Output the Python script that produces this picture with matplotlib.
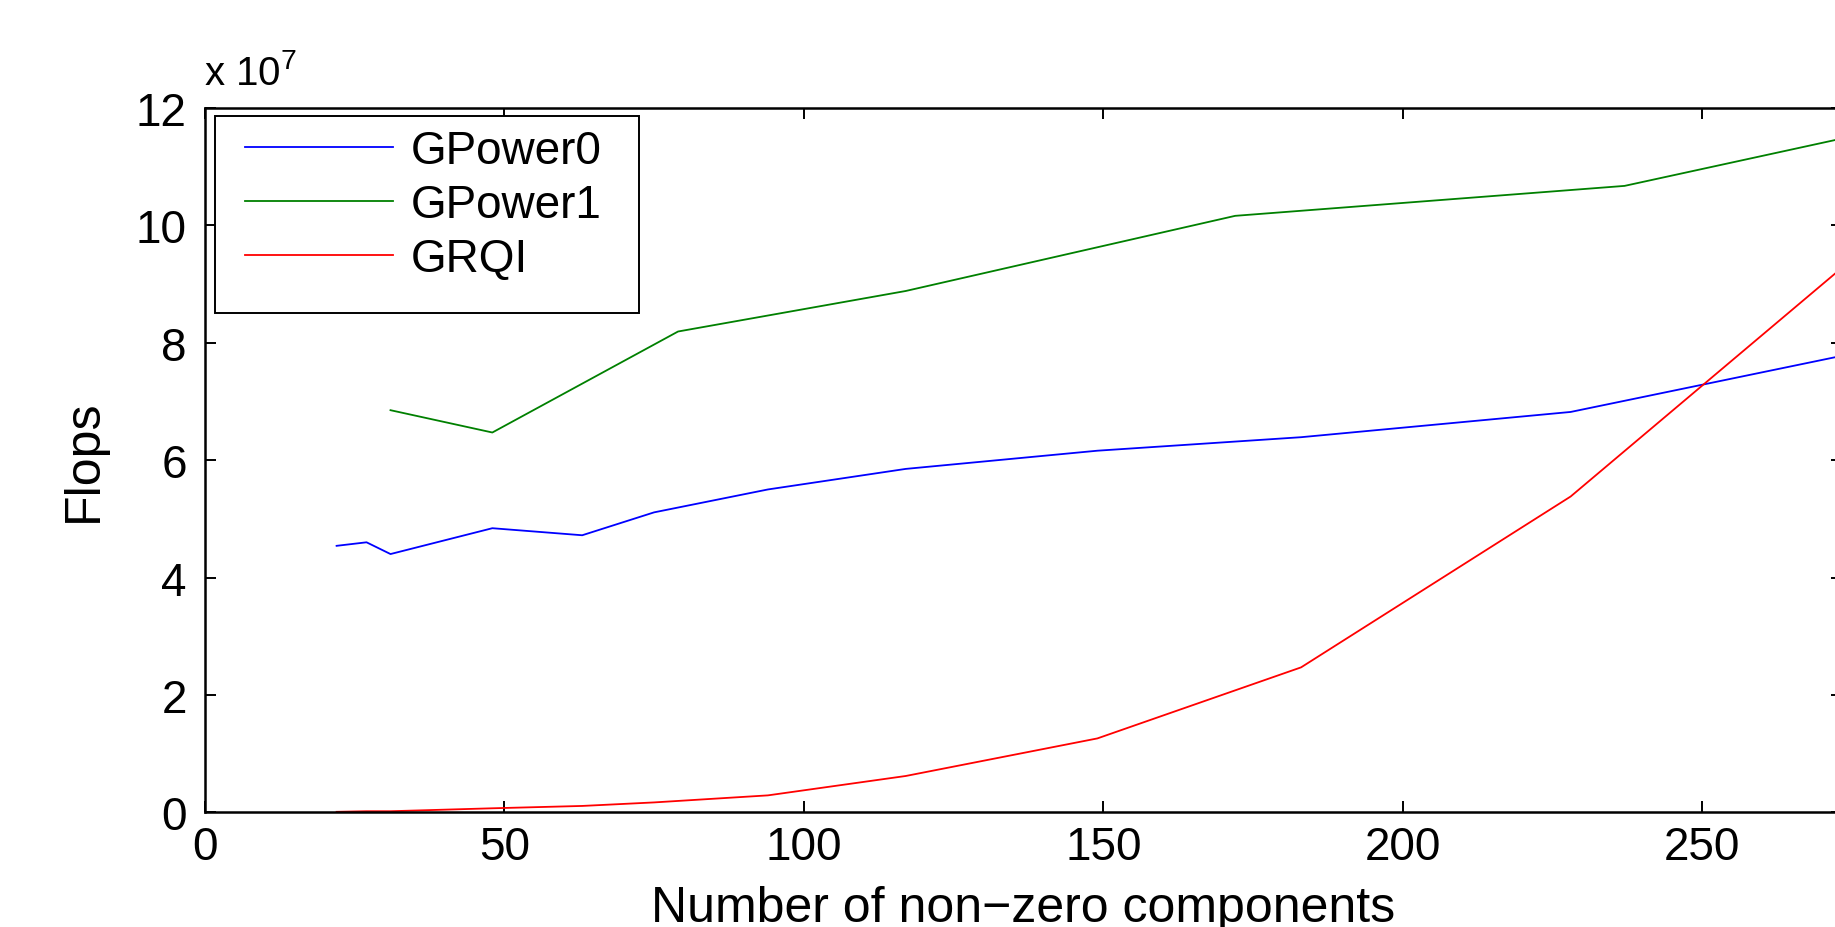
import matplotlib
matplotlib.use('Agg')
import matplotlib.pyplot as plt

plt.rcParams['font.family'] = ['Liberation Sans', 'DejaVu Sans']
plt.rcParams['mathtext.fontset'] = 'custom'
plt.rcParams['mathtext.rm'] = 'Liberation Sans'

# data (values in units of 1e7 flops)
x_gp0 = [22, 27, 31, 48, 63, 75, 94, 117, 149, 183, 228, 273]
y_gp0 = [4.54, 4.60, 4.40, 4.84, 4.72, 5.11, 5.50, 5.85, 6.16, 6.39, 6.82, 7.77]

x_gp1 = [31, 48, 79, 117, 172, 237, 273]
y_gp1 = [6.85, 6.47, 8.19, 8.88, 10.16, 10.67, 11.47]

x_grqi = [22, 27, 31, 48, 63, 75, 94, 117, 149, 183, 228, 273]
y_grqi = [0.01, 0.02, 0.02, 0.07, 0.11, 0.17, 0.29, 0.62, 1.26, 2.47, 5.38, 9.25]

xticks = [0, 50, 100, 150, 200, 250]
yticks = [0, 2, 4, 6, 8, 10, 12]

W, H = 1835, 928
FS = 33

fig = plt.figure(figsize=(W / 100, H / 100), dpi=100)
# right spine sits just past the right edge of the picture
ax = fig.add_axes([204.8 / W, 1 - 813.4 / H, (1842 - 204.8) / W, 704.6 / H])

ax.plot(x_gp0, y_gp0, color=(0, 0, 1), lw=1.3, label='GPower0')
ax.plot(x_gp1, y_gp1, color=(0, 0.5, 0), lw=1.3, label='GPower1')
ax.plot(x_grqi, y_grqi, color=(1, 0, 0), lw=1.3, label='GRQI')

ax.set_xticks(xticks)
ax.set_yticks(yticks)
ax.set_xticklabels([str(v) for v in xticks])
ax.set_yticklabels([str(v) for v in yticks])
ax.set_xlim(0, 273.3)
ax.set_ylim(0, 12)

for s in ax.spines.values():
    s.set_linewidth(1.8)
ax.tick_params(axis='both', direction='in', length=8, width=1.4,
               top=True, right=True, labelsize=FS)
ax.tick_params(axis='x', pad=9)
ax.tick_params(axis='y', pad=13)

# axis labels and exponent
fig.text(1023 / W, 1 - 922 / H, 'Number of non\u2212zero components',
         fontsize=36, ha='center', va='baseline')
fig.text(84 / W, 1 - 461 / H, 'Flops', fontsize=36, rotation=90,
         ha='center', va='center')
fig.text(204 / W, 1 - 85 / H, r'x 10$^{\mathrm{7}}$', fontsize=29,
         ha='left', va='baseline')

# legend: frame drawn separately so the paddings match
frame = plt.Rectangle((215 / W, 1 - 314.3 / H), 424.3 / W, 197 / H,
                      transform=fig.transFigure, facecolor='white',
                      edgecolor='black', lw=1.4, zorder=4)
fig.add_artist(frame)
leg = fig.legend(*ax.get_legend_handles_labels(), loc='upper left',
                 bbox_to_anchor=(245 / W, 1 - 130.5 / H),
                 bbox_transform=fig.transFigure, borderaxespad=0, borderpad=0,
                 fontsize=FS, frameon=False, handlelength=3.23,
                 handletextpad=0.38, labelspacing=0.21)
leg.set_zorder(5)

fig.savefig('out.png', dpi=100, facecolor='white')
